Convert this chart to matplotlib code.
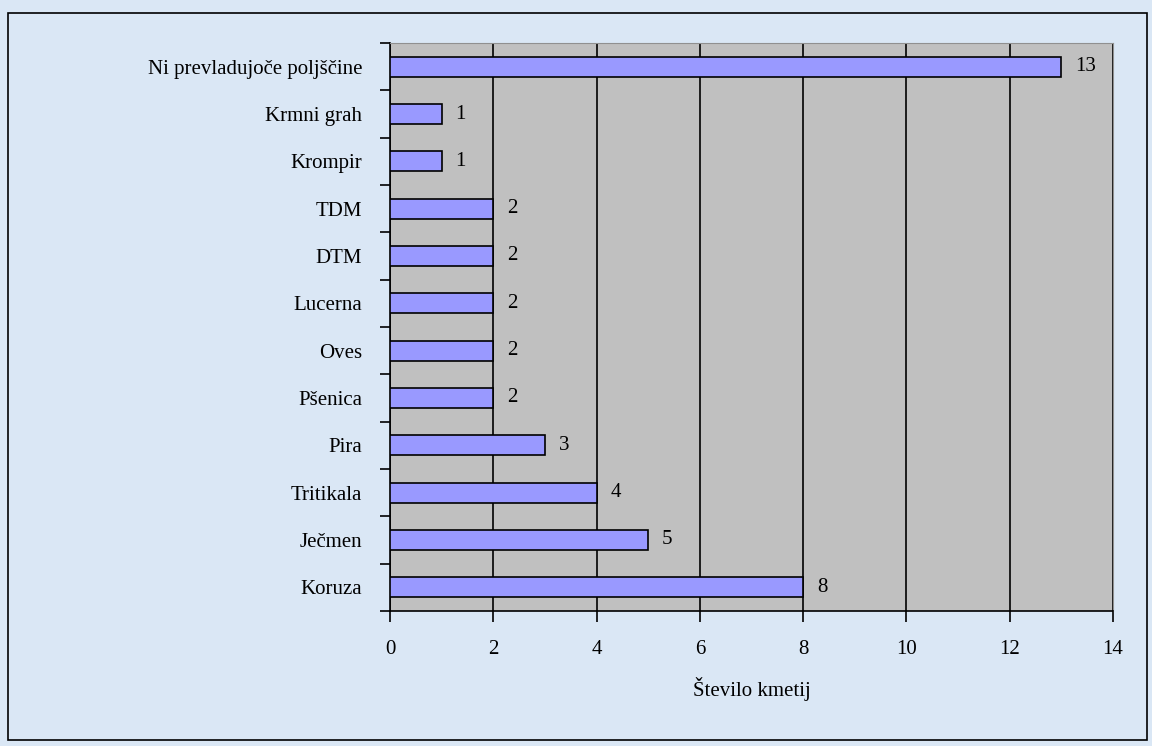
import matplotlib
matplotlib.use("Agg")
import matplotlib.pyplot as plt
from matplotlib.patches import Rectangle

# data, bottom to top
crops = ["Koruza", "Ječmen", "Tritikala", "Pira", "Pšenica", "Oves", "Lucerna",
         "DTM", "TDM", "Krompir", "Krmni grah", "Ni prevladujoče poljščine"]
farms = [8, 5, 4, 3, 2, 2, 2, 2, 2, 1, 1, 13]
xticks = [0, 2, 4, 6, 8, 10, 12, 14]

plt.rcParams['font.family'] = ['Liberation Serif', 'DejaVu Serif']
fs = 15

W, H = 1152, 746
fig = plt.figure(figsize=(W / 100, H / 100), dpi=100, facecolor='#dae7f5')
ax = fig.add_axes([390 / W, 1 - 611 / H, (1113 - 390) / W, (611 - 43) / H])
ax.set_facecolor('#c0c0c0')

ypos = list(range(len(crops)))
ax.barh(ypos, farms, height=0.42, color='#9999ff', edgecolor='black', linewidth=1.2, zorder=3)
for y, v in zip(ypos, farms):
    ax.annotate(str(v), (v, y), xytext=(10, 0), textcoords='offset points',
                va='center', ha='left', fontsize=fs)

ax.set_xlim(0, 14)
ax.set_ylim(-0.5, len(crops) - 0.5)
ax.set_xticks(xticks)
ax.set_xticklabels([str(t) for t in xticks], fontsize=fs)
ax.xaxis.grid(True, color='black', linewidth=1.2, zorder=1)
ax.set_axisbelow(True)

ax.set_yticks(ypos)
ax.set_yticklabels(crops, fontsize=fs)
ax.set_yticks([y - 0.5 for y in ypos] + [len(crops) - 0.5], minor=True)
ax.tick_params(axis='y', which='major', length=0, pad=20)
ax.tick_params(axis='y', which='minor', length=7, width=1.2, direction='out')
ax.tick_params(axis='x', length=8, width=1.2, direction='out', pad=13)

ax.set_xlabel("Število kmetij", fontsize=fs, labelpad=13)

for s in ['left', 'bottom']:
    ax.spines[s].set_linewidth(1.2)
for s in ['top', 'right']:
    ax.spines[s].set_color('#909090')

fig.patches.append(Rectangle((8 / W, 1 - 740 / H), (1147 - 8) / W, (740 - 13) / H,
                             transform=fig.transFigure, fill=False,
                             edgecolor='black', linewidth=1.2))

fig.savefig("out.png", dpi=100, facecolor=fig.get_facecolor())
